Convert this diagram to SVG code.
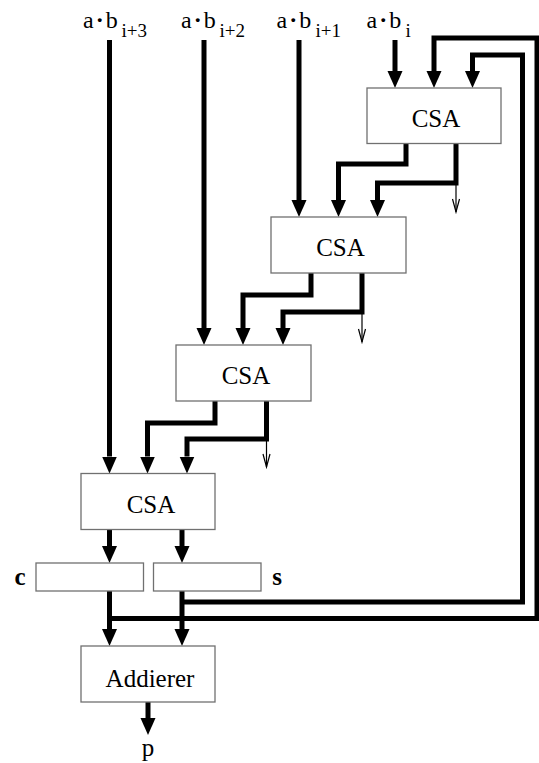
<svg xmlns="http://www.w3.org/2000/svg" width="539" height="763" viewBox="0 0 539 763">
<style>
.box{fill:#fff;stroke:#707070;stroke-width:1.3}
.lbl{font-family:"Liberation Serif","Times New Roman",serif;font-size:25px;fill:#000}
.in{font-family:"Liberation Serif","Times New Roman",serif;font-size:24px;fill:#000}
.sub{font-size:19px}
.bold{font-weight:bold}
.thick{fill:none;stroke:#000;stroke-width:5;stroke-linejoin:miter;stroke-linecap:butt}
.thick.a{marker-end:url(#ah)}
.thin{fill:none;stroke:#000;stroke-width:1.2;marker-end:url(#th)}
</style>
<defs>
<marker id="ah" markerUnits="userSpaceOnUse" viewBox="0 -8 18 16" markerWidth="18" markerHeight="16" refX="0" refY="0" orient="auto">
<path d="M0,-7.5 L17,0 L0,7.5 Z" fill="#000"/>
</marker>
<marker id="th" markerUnits="userSpaceOnUse" viewBox="-14 -5 16 10" markerWidth="16" markerHeight="10" refX="0" refY="0" orient="auto">
<path d="M-13,-3.5 L0,0 L-13,3.5" fill="none" stroke="#000" stroke-width="1.2"/>
</marker>
</defs>

<g id="inputs">
<text class="in" x="83" y="28">a<tspan class="bold" dx="2">·</tspan><tspan dx="2">b</tspan><tspan class="sub" x="121.5" y="36.5">i+3</tspan></text>
<text class="in" x="181" y="28">a<tspan class="bold" dx="2">·</tspan><tspan dx="2">b</tspan><tspan class="sub" x="219.5" y="36.5">i+2</tspan></text>
<text class="in" x="276.5" y="28">a<tspan class="bold" dx="2">·</tspan><tspan dx="2">b</tspan><tspan class="sub" x="315.5" y="36.5">i+1</tspan></text>
<text class="in" x="366.5" y="28">a<tspan class="bold" dx="2">·</tspan><tspan dx="2">b</tspan><tspan class="sub" x="405.5" y="36.5">i</tspan></text>
</g>

<g id="connectors">
<path class="thick a" d="M109.5,40 V456.5"/>
<path class="thick a" d="M204,40 V328"/>
<path class="thick a" d="M299,40 V200"/>
<path class="thick a" d="M395,40 V71"/>
<path class="thick a" d="M406,143.5 V164 H338.5 V200"/>
<path class="thick a" d="M456,143.5 V183 H377.5 V200"/>
<path class="thin" d="M456,183 V212"/>
<path class="thick a" d="M311,273 V295 H243 V328"/>
<path class="thick a" d="M362,273 V312 H283 V328"/>
<path class="thin" d="M362,312 V342"/>
<path class="thick a" d="M215,401 V423 H147.5 V456.5"/>
<path class="thick a" d="M266.5,401 V439 H187 V456.5"/>
<path class="thin" d="M266.5,439 V467"/>
<path class="thick a" d="M109.5,529.5 V546"/>
<path class="thick a" d="M182,529.5 V546"/>
<path class="thick a" d="M109.5,591 V629"/>
<path class="thick a" d="M182,591 V629"/>
<path class="thick a" d="M109.5,618.5 H537 V38 H434 V71"/>
<path class="thick a" d="M182,602 H522.5 V55 H472.5 V71"/>
<path class="thick a" d="M148,702 V718"/>
</g>

<g id="csa1"><rect class="box" x="367" y="88" width="134" height="55.5"/><text class="lbl" x="436" y="127" text-anchor="middle">CSA</text></g>
<g id="csa2"><rect class="box" x="271" y="217" width="135" height="56"/><text class="lbl" x="340.5" y="256" text-anchor="middle">CSA</text></g>
<g id="csa3"><rect class="box" x="176" y="345" width="135" height="56"/><text class="lbl" x="246" y="384" text-anchor="middle">CSA</text></g>
<g id="csa4"><rect class="box" x="81" y="473.5" width="134" height="56"/><text class="lbl" x="151" y="512.5" text-anchor="middle">CSA</text></g>

<g id="reg-c"><rect class="box" x="36" y="563" width="107.5" height="28"/><text class="lbl bold" x="20" y="585" text-anchor="middle">c</text></g>
<g id="reg-s"><rect class="box" x="153.5" y="563" width="107.5" height="28"/><text class="lbl bold" x="277" y="585" text-anchor="middle">s</text></g>

<g id="adder"><rect class="box" x="81" y="646" width="134" height="56"/><text class="lbl" x="150" y="686.5" text-anchor="middle">Addierer</text></g>

<g id="out-p"><text class="lbl" x="148" y="755.5" text-anchor="middle">p</text></g>
</svg>
